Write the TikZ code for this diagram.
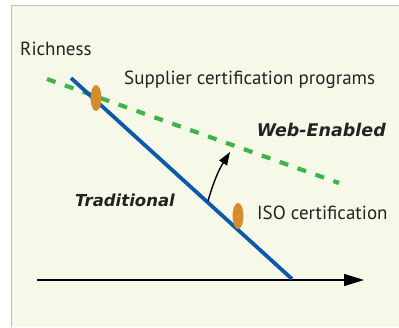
\documentclass[tikz,border=0pt]{standalone}
\usepackage{fontspec}
\setmainfont{PT Sans}
\newfontfamily\heavyfont{DejaVu Sans}
\usepackage{tikz}
\definecolor{paperCream}{RGB}{247, 249, 232}
\definecolor{frameGray}{RGB}{190, 190, 190}
\definecolor{tradBlue}{RGB}{12, 88, 170}
\definecolor{webGreen}{RGB}{60, 180, 75}
\definecolor{markOrange}{RGB}{214, 140, 46}
\definecolor{textGray}{RGB}{35, 35, 35}
\usetikzlibrary{shapes.geometric, arrows.meta, positioning}

\tikzset{
  label/.style={text=textGray, font=\fontsize{19}{21}\selectfont, inner sep=0pt},
  boldlabel/.style={text=textGray, font=\heavyfont\fontsize{17.5}{20}\selectfont\bfseries\itshape, inner sep=0pt},
  marker/.style={ellipse, fill=markOrange, minimum width=11pt, minimum height=26pt, inner sep=0pt}
}

\begin{document}
\begin{tikzpicture}[x=1pt, y=-1pt]
        \useasboundingbox (0,0) rectangle (399,327);
        \fill[paperCream] (11,5) rectangle (399,327);
        \draw[frameGray, thin] (11,327) -- (11,5) -- (399,5);

        % axis
        \coordinate (axisStart) at (37,280);
        \coordinate (axisEnd) at (364,280);
        \draw[black, line width=1.6pt, -{Triangle[length=20pt, width=12pt]}] (axisStart) -- (axisEnd);

        % the two curves
        \coordinate (tradTop) at (71,78);
        \coordinate (tradEnd) at (292,279);
        \coordinate (webStart) at (47,79);
        \coordinate (webEnd) at (339,183);
        \draw[webGreen, line width=4.2pt, dash pattern=on 9pt off 10pt] (webStart) -- (webEnd);
        \draw[tradBlue, line width=3.8pt] (tradTop) -- (tradEnd);

        % shift arrow
        \coordinate (shiftFrom) at (208,201);
        \coordinate (shiftTo) at (230,152);
        \draw[black, line width=1.4pt, -{Triangle[length=13pt, width=9pt]}] (shiftFrom) to[bend left=8] (shiftTo);

        % programs on the curve
        \node[marker] (supMark) at (96,98) {};
        \node[marker] (isoMark) at (238,216) {};

        % texts
        \node[label, anchor=west] (richness) at (20,49) {Richness};
        \node[label, anchor=west] (supplier) at (124,80) {Supplier certification programs};
        \node[boldlabel, anchor=east] (web) at (386,130) {Web-Enabled};
        \node[boldlabel, anchor=east, font=\heavyfont\fontsize{16.5}{19}\selectfont\bfseries\itshape] (trad) at (175,200) {Traditional};
        \node[label, anchor=west] (iso) at (257,213) {ISO certification};
    \end{tikzpicture}
\end{document}
